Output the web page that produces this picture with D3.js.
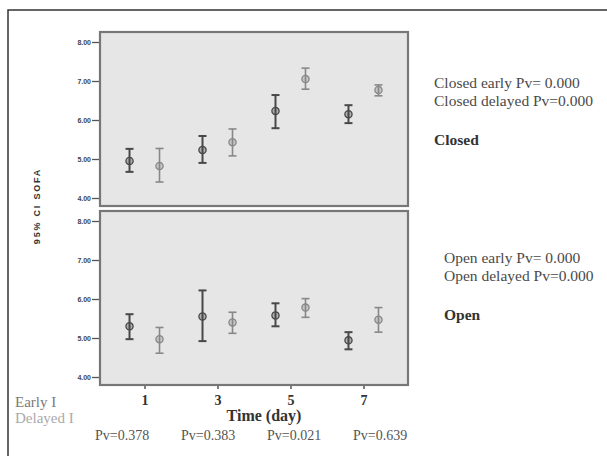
<!DOCTYPE html>
<html>
<head>
<meta charset="utf-8">
<script src="https://cdn.jsdelivr.net/npm/d3@7"></script>
<style>
  body { margin: 0; background: #fff; }
  svg { display: block; }
  .serif { font-family: "Liberation Serif", "Times New Roman", serif; }
</style>
</head>
<body>
<svg width="607" height="456"></svg>
<script>
// categories
const days = ['1', '3', '5', '7']
const yTicks = [4, 5, 6, 7, 8]

// [mean, lower 95% CI, upper 95% CI] per day
const closedEarly   = [[4.95, 4.67, 5.26], [5.23, 4.90, 5.59], [6.23, 5.79, 6.64], [6.15, 5.92, 6.38]]
const closedDelayed = [[4.82, 4.41, 5.27], [5.43, 5.08, 5.77], [7.05, 6.79, 7.33], [6.77, 6.62, 6.90]]
const openEarly     = [[5.30, 4.97, 5.61], [5.55, 4.92, 6.22], [5.58, 5.30, 5.89], [4.94, 4.71, 5.15]]
const openDelayed   = [[4.97, 4.61, 5.27], [5.40, 5.12, 5.66], [5.78, 5.53, 6.01], [5.47, 5.15, 5.78]]

const pValues = ['Pv=0.378', 'Pv=0.383', 'Pv=0.021', 'Pv=0.639']
const closedNotes = ['Closed early Pv= 0.000', 'Closed delayed Pv=0.000']
const openNotes = ['Open early Pv= 0.000', 'Open delayed Pv=0.000']

const EARLY = '#484848'
const DELAYED = '#888888'
const LEFT = 100, RIGHT = 408
const PANEL_H = 174
const OFFSET = 15

const svg = d3.select('svg')

// outer frame (top and left edges only, the rest is cropped)
svg.append('path')
  .attr('d', 'M8,456V10H607')
  .attr('fill', 'none')
  .attr('stroke', '#333')
  .attr('stroke-width', 1.5)

const x = d3.scalePoint()
  .domain(days)
  .range([LEFT, RIGHT])
  .padding(0.61)

function panel(top, early, delayed) {
  const y = d3.scaleLinear()
    .domain([4, 8])
    .range([top + PANEL_H - 8, top + 10])

  const g = svg.append('g')

  g.append('rect')
    .attr('x', LEFT)
    .attr('y', top)
    .attr('width', RIGHT - LEFT)
    .attr('height', PANEL_H)
    .attr('fill', '#e6e6e6')
    .attr('stroke', '#777')
    .attr('stroke-width', 2.2)

  const axis = g.append('g')
    .attr('transform', `translate(${LEFT - 1},0)`)
    .call(d3.axisLeft(y).tickValues(yTicks).tickFormat(d3.format('.2f')).tickSize(7))
  axis.select('.domain').remove()
  axis.selectAll('line').attr('stroke', '#555').attr('stroke-width', 1.3)
  axis.selectAll('text')
    .attr('x', -8)
    .attr('fill', '#444')
    .style('font-family', 'Arial, "Liberation Sans", sans-serif')
    .style('font-size', '7px')
    .style('font-weight', 'bold')

  function bars(data, dx, color, w) {
    const b = g.append('g').selectAll('g')
      .data(data)
      .join('g')
      .attr('transform', (d, i) => `translate(${x(days[i]) + dx},0)`)
      .attr('stroke', color)
      .attr('fill', 'none')
    b.append('line')
      .attr('y1', d => y(d[1]))
      .attr('y2', d => y(d[2]))
      .attr('stroke-width', w)
    b.append('line')
      .attr('x1', -4).attr('x2', 4)
      .attr('y1', d => y(d[1])).attr('y2', d => y(d[1]))
      .attr('stroke-width', w)
    b.append('line')
      .attr('x1', -4).attr('x2', 4)
      .attr('y1', d => y(d[2])).attr('y2', d => y(d[2]))
      .attr('stroke-width', w)
    b.append('circle')
      .attr('cy', d => y(d[0]))
      .attr('r', 3.6)
      .attr('fill', color)
      .attr('fill-opacity', 0.35)
      .attr('stroke-width', 1.3)
  }
  bars(early, -OFFSET, EARLY, 2)
  bars(delayed, OFFSET, DELAYED, 1.6)
  return g
}

panel(32, closedEarly, closedDelayed)
const bottomTop = 32 + PANEL_H + 5
panel(bottomTop, openEarly, openDelayed)

// x axis under the lower panel
const xAxis = svg.append('g')
  .attr('transform', `translate(0,${bottomTop + PANEL_H + 1})`)
  .call(d3.axisBottom(x).tickSize(3))
xAxis.select('.domain').remove()
xAxis.selectAll('line').attr('stroke', '#555').attr('stroke-width', 1.5)
xAxis.selectAll('text')
  .attr('y', 9)
  .attr('fill', '#333')
  .attr('class', 'serif')
  .style('font-size', '14px')
  .style('font-weight', 'bold')

svg.append('text')
  .attr('class', 'serif')
  .attr('x', 264).attr('y', 421)
  .attr('text-anchor', 'middle')
  .attr('fill', '#333')
  .style('font-size', '16px')
  .style('font-weight', 'bold')
  .text('Time (day)')

// y axis title
svg.append('text')
  .attr('transform', 'translate(40,206) rotate(-90)')
  .attr('text-anchor', 'middle')
  .attr('fill', '#333')
  .style('font-family', 'Arial, "Liberation Sans", sans-serif')
  .style('font-size', '9px')
  .style('font-weight', 'bold')
  .style('letter-spacing', '1.8px')
  .text('95% CI SOFA')

// legend words
svg.append('text').attr('class', 'serif')
  .attr('x', 15).attr('y', 407)
  .attr('fill', '#7a7a7a')
  .style('font-size', '15px')
  .text('Early I')
svg.append('text').attr('class', 'serif')
  .attr('x', 15).attr('y', 423)
  .attr('fill', '#aaaaaa')
  .style('font-size', '15px')
  .text('Delayed I')

// p-values per day
svg.append('g').selectAll('text')
  .data(pValues)
  .join('text')
  .attr('class', 'serif')
  .attr('x', (d, i) => 95 + i * 86)
  .attr('y', 440)
  .attr('fill', '#555')
  .style('font-size', '14px')
  .text(d => d)

// notes on the right
function notes(lines, title, x0, y0, y2) {
  svg.append('g').selectAll('text')
    .data(lines)
    .join('text')
    .attr('class', 'serif')
    .attr('x', x0)
    .attr('y', (d, i) => y0 + i * 18)
    .attr('fill', '#4a4a4a')
    .style('font-size', '15.5px')
    .text(d => d)
  svg.append('text')
    .attr('class', 'serif')
    .attr('x', x0).attr('y', y2)
    .attr('fill', '#333')
    .style('font-size', '15.5px')
    .style('font-weight', 'bold')
    .text(title)
}
notes(closedNotes, 'Closed', 434, 88, 145)
notes(openNotes, 'Open', 444, 263, 320)
</script>
</body>
</html>
